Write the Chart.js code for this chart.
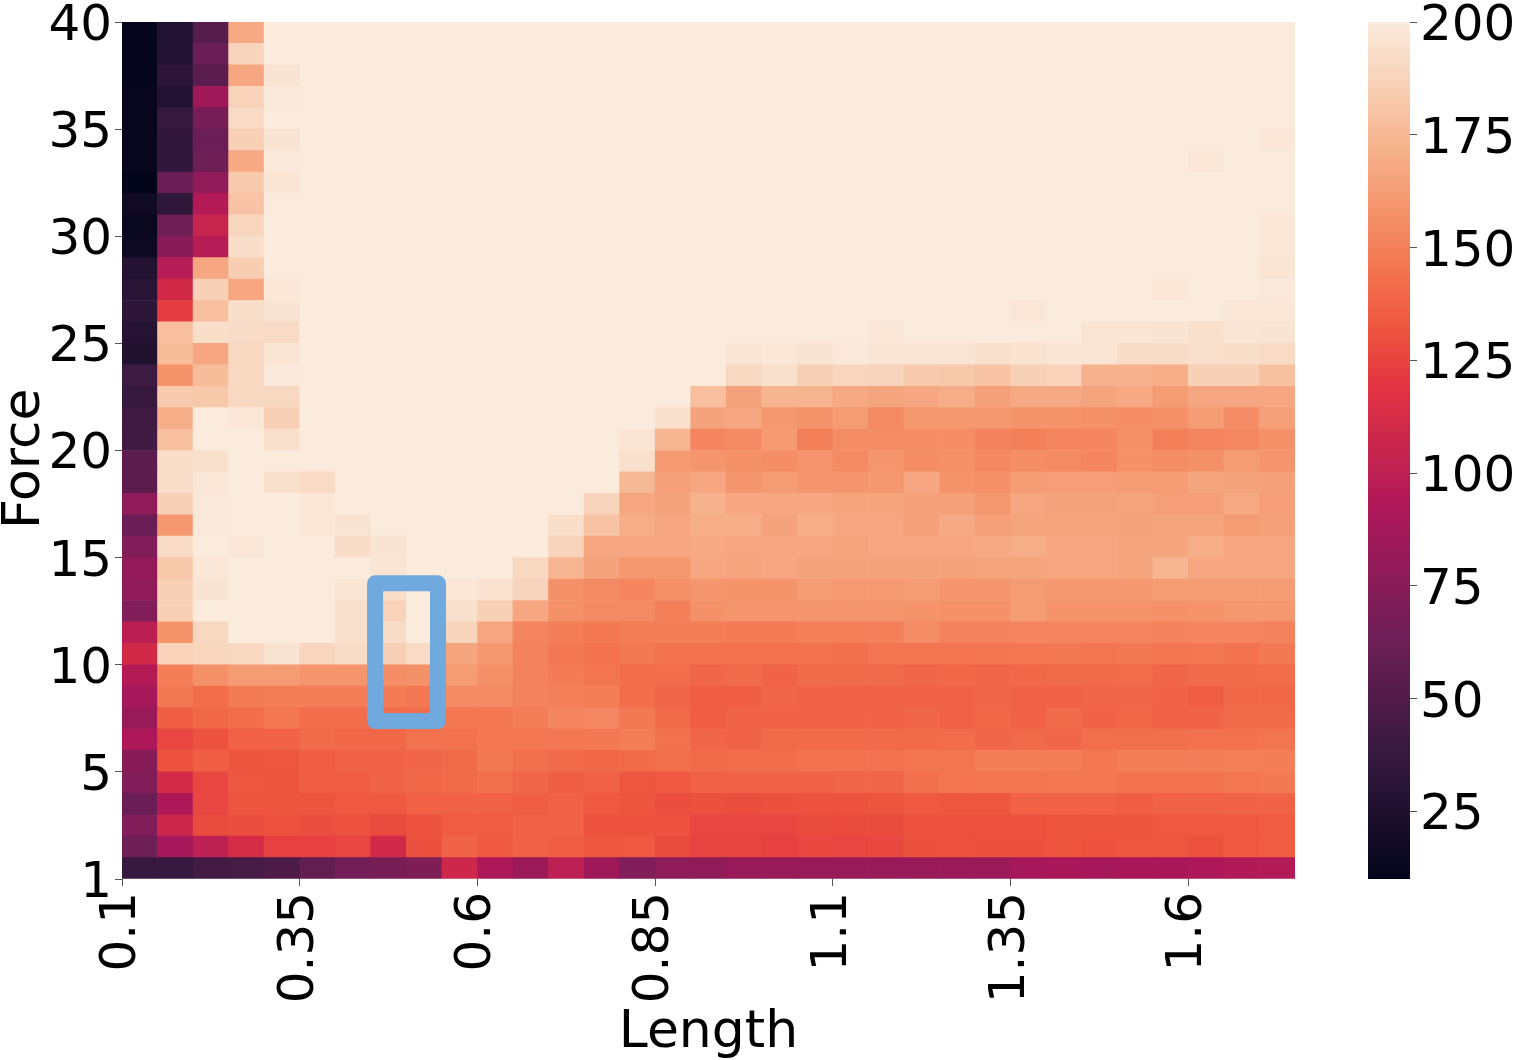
<!DOCTYPE html>
<html>
<head>
<meta charset="utf-8">
<title>Force / Length heatmap</title>
<script src="https://cdn.jsdelivr.net/npm/chart.js@4"></script>
<style>
  html, body { margin: 0; padding: 0; background: #fff; overflow: hidden; }
  #wrap { position: relative; width: 1517px; height: 1060px; }
  canvas { position: absolute; top: 0; }
  #heatChart { left: 0; }
  #barChart { left: 1300px; }
</style>
</head>
<body>
<div id="wrap">
  <canvas id="heatChart" width="1517" height="1060"></canvas>
  <canvas id="barChart" width="217" height="1060"></canvas>
</div>
<script>
// tick labels, one every 5 cells
const lengthLabels = ["0.1", "0.35", "0.6", "0.85", "1.1", "1.35", "1.6"];
const forceLabels = ["1", "5", "10", "15", "20", "25", "30", "35", "40"];

// values, one array per force row, left to right
const row40 = [11,27,52,168,200, 200,200,200,200,200,200,200,200,200,200,200,200,200,200,200,200,200,200,200,200,200,200,200,200,200,200,200,200];
const row39 = [11,28,62,188,200, 200,200,200,200,200,200,200,200,200,200,200,200,200,200,200,200,200,200,200,200,200,200,200,200,200,200,200,200];
const row38 = [11,32,54,167,196, 200,200,200,200,200,200,200,200,200,200,200,200,200,200,200,200,200,200,200,200,200,200,200,200,200,200,200,200];
const row37 = [13,27,85,187,199, 200,200,200,200,200,200,200,200,200,200,200,200,200,200,200,200,200,200,200,200,200,200,200,200,200,200,200,200];
const row36 = [12,37,68,191,200, 200,200,200,200,200,200,200,200,200,200,200,200,200,200,200,200,200,200,200,200,200,200,200,200,200,200,200,200];
const row35 = [12,35,62,186,196, 200,200,200,200,200,200,200,200,200,200,200,200,200,200,200,200,200,200,200,200,200,200,200,200,200,200,200,198];
const row34 = [13,35,63,168,199, 200,200,200,200,200,200,200,200,200,200,200,200,200,200,200,200,200,200,200,200,200,200,200,200,200,198,200,200];
const row33 = [10,62,78,183,197, 200,200,200,200,200,200,200,200,200,200,200,200,200,200,200,200,200,200,200,200,200,200,200,200,200,200,200,200];
const row32 = [17,34,95,180,200, 200,200,200,200,200,200,200,200,200,200,200,200,200,200,200,200,200,200,200,200,200,200,200,200,200,200,200,200];
const row31 = [14,63,105,189,200, 200,200,200,200,200,200,200,200,200,200,200,200,200,200,200,200,200,200,200,200,200,200,200,200,200,200,200,198];
const row30 = [16,75,96,193,200, 200,200,200,200,200,200,200,200,200,200,200,200,200,200,200,200,200,200,200,200,200,200,200,200,200,200,200,198];
const row29 = [28,96,167,185,200, 200,200,200,200,200,200,200,200,200,200,200,200,200,200,200,200,200,200,200,200,200,200,200,200,200,200,200,197];
const row28 = [30,110,186,167,198, 200,200,200,200,200,200,200,200,200,200,200,200,200,200,200,200,200,200,200,200,200,200,200,200,198,200,200,199];
const row27 = [33,122,178,193,196, 200,200,200,200,200,200,200,200,200,200,200,200,200,200,200,200,200,200,200,200,198,200,200,200,200,200,198,198];
const row26 = [29,178,193,192,191, 200,200,200,200,200,200,200,200,200,200,200,200,200,200,200,200,198, 200,200,200,200,200,197,197,196,194,197,196];
const row25 = [26,177,167,190,197, 200,200,200,200,200,200,200,200,200,200,200,200,197,198,196,199,197, 197,197,194,195,197,197,192,192,194,193,191];
const row24 = [41,158,177,190,199, 200,200,200,200,200,200,200,200,200,200,200,200,190,194,186,189,188, 183,182,180,186,187,172,172,170,186,186,179];
const row23 = [38,183,182,190,190, 200,200,200,200,200,200,200,200,200,200,200,178,165,173,173,168,166, 167,170,164,168,168,166,168,162,167,167,167];
const row22 = [42,170,200,198,186, 200,200,200,200,200,200,200,200,200,200,194,165,167,160,158,162,154, 160,160,160,158,158,157,156,157,162,156,164];
const row21 = [42,178,200,200,194, 200,200,200,200,200,200,200,200,200,197,174,152,154,161,150,155,155, 156,156,151,150,152,152,157,150,152,153,157];
const row20 = [55,193,194,200,200, 200,200,200,200,200,200,200,200,200,194,161,159,157,156,159,154,159, 155,157,153,156,154,152,157,155,157,162,159];
const row19 = [55,193,198,200,194, 191,200,200,200,200,200,200,200,200,175,164,167,159,162,159,159,160, 167,158,157,162,163,163,162,162,166,165,164];
const row18 = [78,186,199,200,200, 198,200,200,200,200,200,200,200,188,167,165,172,167,167,167,166,166, 164,164,160,167,165,165,166,163,163,168,163];
const row17 = [62,160,199,200,200, 198,196,200,200,200,200,200,193,180,170,167,170,170,165,170,167,167, 164,168,164,166,166,166,165,166,166,162,164];
const row16 = [72,191,200,198,200, 200,192,196,200,200,200,200,188,167,167,167,168,167,167,167,166,167, 167,167,168,170,167,167,166,166,170,167,167];
const row15 = [80,182,198,200,200, 200,200,197,200,200,200,190,174,165,160,160,167,166,167,165,165,165, 165,165,166,166,167,167,166,174,167,167,167];
const row14 = [78,186,196,200,200, 200,197,193,200,198, 195,188,157,154,152,157,159,158,158,162,161,161, 162,159,159,162,160,160,160,162,162,162,162];
const row13 = [72,186,200,200,200, 200,194,187,200,194, 186,167,157,154,154,150,157,159,159,159,159,159, 158,157,157,162,158,158,158,157,158,160,160];
const row12 = [98,158,190,200,200, 200,194,192,200,188, 167,152,149,146,149,149,149,148,148,150,150,150, 155,151,151,152,152,152,152,151,152,152,151];
const row11 = [110,187,189,190,196, 189,192,186,191,166, 160,151,146,144,147,144,144,144,144,144,143,145, 145,145,145,146,147,145,147,145,146,144,147];
const row10 = [95,149,157,162,162, 159,159,156,157,162, 157,151,148,145,142,142,139,141,138,141,141,141, 139,140,139,140,141,141,142,139,141,141,142];
const row9 = [88,147,142,148,149, 149,149,148,146,154, 154,151,150,149,142,139,136,136,139,138,137,137, 137,137,139,137,137,139,139,138,136,140,140];
const row8 = [82,136,140,142,146, 142,142,142,142,146, 146,149,152,153,147,141,136,138,138,138,138,138, 139,137,140,137,141,138,140,137,138,141,141];
const row7 = [92,126,131,137,137, 141,140,140,144,144, 146,146,146,147,149,144,139,138,141,141,141,141, 141,142,139,141,139,143,143,143,144,144,145];
const row6 = [75,131,136,132,133, 136,138,138,139,141, 147,143,141,140,141,143,141,142,142,144,144,144, 145,145,149,149,149,146,149,149,149,150,149];
const row5 = [72,111,126,133,132, 136,136,138,140,141, 143,139,136,137,133,134,137,138,138,137,139,139, 143,145,145,145,146,146,144,144,144,146,147];
const row4 = [62,92,126,132,132, 132,134,134,137,137, 137,136,137,134,132,129,130,129,130,131,131,132, 134,133,133,137,137,137,136,137,137,138,138];
const row3 = [72,107,128,129,131, 129,131,128,131,135, 135,137,137,131,131,131,126,126,126,128,128,128, 131,131,131,131,132,132,132,134,134,134,135];
const row2 = [63,88,100,113,124, 124,126,110,130,138, 134,137,136,133,134,128,125,125,124,127,126,127, 130,131,130,130,132,131,133,133,131,134,135];
const row1 = [38,38,43,45,48, 58,66,68,71,108, 92,84,100,85,72,78,78,82,82,82,82,82, 82,83,83,88,90,88,90,90,92,94,95];

const rows = [row1, row2, row3, row4, row5, row6, row7, row8, row9, row10,
  row11, row12, row13, row14, row15, row16, row17, row18, row19, row20,
  row21, row22, row23, row24, row25, row26, row27, row28, row29, row30,
  row31, row32, row33, row34, row35, row36, row37, row38, row39, row40];

const vMin = 10;
const vMax = 200;

// rocket colormap
const rocketPos = [0, 0.1429, 0.2857, 0.4286, 0.5714, 0.6429, 0.7143, 0.7857, 0.8571, 0.93, 1];
const rocketRgb = [
  [3, 5, 26], [53, 25, 62], [112, 31, 87], [173, 23, 89], [225, 51, 66], [238, 85, 62],
  [243, 118, 81], [245, 150, 110], [246, 180, 143], [248, 210, 184], [250, 235, 221],
];

function warna(v) {
  const t = Math.min(1, Math.max(0, (v - vMin) / (vMax - vMin)));
  let i = 0;
  while (i < rocketPos.length - 2 && t > rocketPos[i + 1]) i++;
  const f = (t - rocketPos[i]) / (rocketPos[i + 1] - rocketPos[i]);
  const c = rocketRgb[i].map((a, k) => Math.round(a + (rocketRgb[i + 1][k] - a) * f));
  return `rgb(${c[0]},${c[1]},${c[2]})`;
}

const fontFamily = "'DejaVu Sans'";
const tickFont = { family: fontFamily, size: 50 };
const titleFont = { family: fontFamily, size: 52 };
const tickColor = "#555";

// blue box, in cell units on the two scales
const kotak = { x0: 7.12, x1: 8.89, y0: 7.37, y1: 13.8 };

const kotakPlugin = {
  id: "kotak",
  afterDatasetsDraw(chart) {
    const { ctx, scales } = chart;
    const x0 = scales.x.getPixelForValue(kotak.x0);
    const x1 = scales.x.getPixelForValue(kotak.x1);
    const y0 = scales.y.getPixelForValue(kotak.y1);
    const y1 = scales.y.getPixelForValue(kotak.y0);
    ctx.save();
    ctx.strokeStyle = "#70a9dd";
    ctx.lineWidth = 16;
    ctx.lineJoin = "round";
    ctx.strokeRect(x0, y0, x1 - x0, y1 - y0);
    ctx.restore();
  },
};

// padding from tick labels would shift the plot area, so it is dropped
function tanpaPadding(s) {
  s.paddingLeft = 0;
  s.paddingRight = 0;
  s.paddingTop = 0;
  s.paddingBottom = 0;
}

// --- HEATMAP: stacked bars, each dataset is one force row ---
new Chart(document.getElementById("heatChart"), {
  type: "bar",
  data: {
    datasets: rows.map((row, r) => ({
      label: "row" + (r + 1),
      data: row.map((v, k) => ({ x: k + 0.5, y: 1 })),
      backgroundColor: row.map(warna),
      borderWidth: 0,
      categoryPercentage: 1,
      barPercentage: 1,
    })),
  },
  plugins: [kotakPlugin],
  options: {
    responsive: false,
    animation: false,
    devicePixelRatio: 1,
    layout: { padding: { top: 22, right: 222, left: 0, bottom: 0 } },
    plugins: { legend: { display: false }, tooltip: { enabled: false } },
    scales: {
      x: {
        type: "linear",
        stacked: true,
        offset: false,
        min: 0,
        max: 33,
        afterFit(s) { s.height = 181; tanpaPadding(s); },
        grid: { offset: false, drawOnChartArea: false, tickLength: 7, tickColor: tickColor },
        border: { display: false },
        title: { display: true, text: "Length", color: "#000", padding: { top: 0, bottom: -5 }, font: titleFont },
        ticks: {
          stepSize: 5,
          includeBounds: false,
          minRotation: 90,
          maxRotation: 90,
          padding: 6,
          color: "#000",
          font: tickFont,
          callback: (v) => lengthLabels[v / 5],
        },
      },
      y: {
        type: "linear",
        stacked: true,
        min: 0,
        max: 40,
        afterFit(s) { s.width = 122; tanpaPadding(s); },
        grid: { drawOnChartArea: false, tickLength: 7, tickColor: tickColor },
        border: { display: false },
        // trailing space moves the rotated word down to where the original has it
        title: { display: true, text: "Force ", color: "#000", padding: { top: -6, bottom: 0 }, font: titleFont },
        ticks: {
          stepSize: 5,
          includeBounds: false,
          padding: 3,
          labelOffset: 5,
          color: "#000",
          font: tickFont,
          callback: (v) => forceLabels[v / 5],
        },
      },
    },
  },
});

// --- COLORBAR: one floating bar filled with the colormap ---
new Chart(document.getElementById("barChart"), {
  type: "bar",
  data: {
    labels: ["warna"],
    datasets: [
      {
        data: [[vMin, vMax]],
        borderWidth: 0,
        categoryPercentage: 1,
        barPercentage: 1,
        backgroundColor(ctx) {
          const area = ctx.chart.chartArea;
          if (!area) return "#000";
          const g = ctx.chart.ctx.createLinearGradient(0, area.bottom, 0, area.top);
          rocketPos.forEach((p, i) => g.addColorStop(p, `rgb(${rocketRgb[i].join(",")})`));
          return g;
        },
      },
    ],
  },
  options: {
    responsive: false,
    animation: false,
    devicePixelRatio: 1,
    layout: { padding: { top: 22, left: 68, right: 0, bottom: 181 } },
    plugins: { legend: { display: false }, tooltip: { enabled: false } },
    scales: {
      x: { display: false },
      y: {
        position: "right",
        min: vMin,
        max: vMax,
        afterFit(s) { s.width = 107; tanpaPadding(s); },
        grid: { drawOnChartArea: false, tickLength: 7, tickColor: tickColor },
        border: { display: false },
        ticks: { stepSize: 25, includeBounds: false, padding: 3, labelOffset: 5, color: "#000", font: tickFont },
      },
    },
  },
});
</script>
</body>
</html>
